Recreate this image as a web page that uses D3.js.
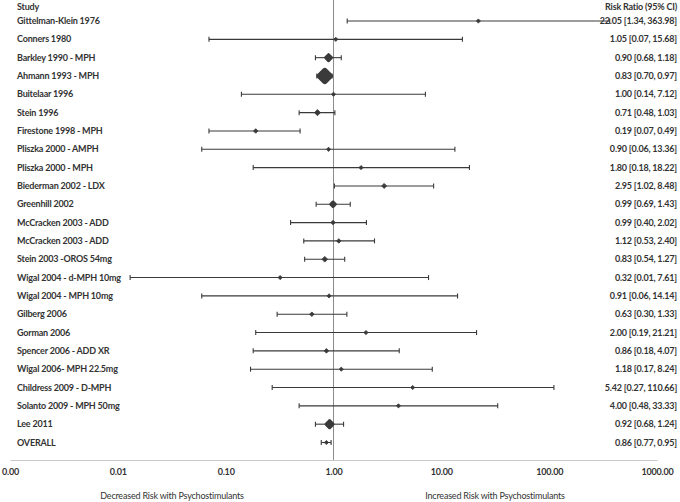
<!DOCTYPE html>
<html><head><meta charset="utf-8">
<script src="https://cdn.jsdelivr.net/npm/d3@7"></script>
<style>
body{margin:0;background:#fff;}
text{font-family:Lato,"Open Sans",sans-serif;letter-spacing:-0.2px;}
</style></head>
<body><svg id="c" width="680" height="502"></svg>
<script>
const studies = ["Gittelman-Klein 1976","Conners 1980","Barkley 1990 - MPH","Ahmann 1993 - MPH","Buitelaar 1996","Stein 1996","Firestone 1998 - MPH","Pliszka 2000 - AMPH","Pliszka 2000 - MPH","Biederman 2002 - LDX","Greenhill 2002","McCracken 2003 - ADD","McCracken 2003 - ADD","Stein 2003 -OROS 54mg","Wigal 2004 - d-MPH 10mg","Wigal 2004 - MPH 10mg","Gilberg 2006","Gorman 2006","Spencer 2006 - ADD XR","Wigal 2006- MPH 22.5mg","Childress 2009 - D-MPH","Solanto 2009 - MPH 50mg","Lee 2011","OVERALL"];
const rr    = [22.05,1.05,0.90,0.83,1.00,0.71,0.19,0.90,1.80,2.95,0.99,0.99,1.12,0.83,0.32,0.91,0.63,2.00,0.86,1.18,5.42,4.00,0.92,0.86];
const lower = [1.34,0.07,0.68,0.70,0.14,0.48,0.07,0.06,0.18,1.02,0.69,0.40,0.53,0.54,0.013,0.06,0.30,0.19,0.18,0.17,0.27,0.48,0.68,0.77];
const upper = [363.98,15.68,1.18,0.97,7.12,1.03,0.49,13.36,18.22,8.48,1.43,2.02,2.40,1.27,7.61,14.14,1.33,21.21,4.07,8.24,110.66,33.33,1.24,0.95];
const lowerLabel = [1.34,0.07,0.68,0.70,0.14,0.48,0.07,0.06,0.18,1.02,0.69,0.40,0.53,0.54,0.01,0.06,0.30,0.19,0.18,0.17,0.27,0.48,0.68,0.77];
const weights = [1,1,6,25,1,3,1.3,1,1,1.8,4,1.3,1.3,2.5,1,1,1.3,1,1.3,1,1,1,8,1];
const tickValues = [0.001,0.01,0.1,1,10,100,1000];
const tickLabels = ["0.00","0.01","0.10","1.00","10.00","100.00","1000.00"];

const svg = d3.select("#c");
const x = d3.scaleLog().domain([0.001,1000]).range([10,657]);
const y = d3.scaleLinear().domain([0,studies.length-1]).range([21,442.5]);
const size = d3.scaleSqrt().domain([1,25]).range([4.2,14.5]);
const dark = "#3a3a3a";
const fs = 9;

// reference line at 1
svg.append("line").attr("x1",x(1)).attr("x2",x(1)).attr("y1",0).attr("y2",460)
  .attr("stroke","#8c8c8c").attr("stroke-width",1);

// x axis
const axis = d3.axisBottom(x).tickValues(tickValues).tickFormat((d,i)=>tickLabels[i]).tickSize(0).tickPadding(9);
const ag = svg.append("g").attr("transform","translate(0,460)").call(axis);
ag.select(".domain").attr("stroke","#c8c8c8").attr("stroke-width",1.2);
ag.selectAll("text").attr("font-family","Lato").attr("font-size",fs).attr("font-weight",700).attr("fill","#333");

// headers
svg.append("text").attr("x",17).attr("y",9.5).text("Study")
  .attr("font-size",fs).attr("font-weight",700).attr("fill","#333");
svg.append("text").attr("x",677).attr("y",9.5).attr("text-anchor","end").text("Risk Ratio (95% CI)")
  .attr("font-size",fs).attr("font-weight",700).attr("fill","#333");

const rows = svg.append("g").selectAll("g").data(studies).join("g")
  .attr("transform",(d,i)=>`translate(0,${y(i)})`);

rows.append("text").attr("x",17).attr("dy","0.35em").text(d=>d)
  .attr("font-size",fs).attr("font-weight",700).attr("fill","#333");

rows.append("text").attr("x",677).attr("dy","0.35em").attr("text-anchor","end")
  .text((d,i)=>`${rr[i].toFixed(2)} [${lowerLabel[i].toFixed(2)}, ${upper[i].toFixed(2)}]`)
  .attr("font-size",fs).attr("font-weight",700).attr("fill","#333");

rows.append("line").attr("x1",(d,i)=>x(lower[i])).attr("x2",(d,i)=>x(upper[i]))
  .attr("stroke",dark).attr("stroke-width",1.1);
rows.append("line").attr("x1",(d,i)=>x(lower[i])).attr("x2",(d,i)=>x(lower[i]))
  .attr("y1",-2.5).attr("y2",2.5).attr("stroke",dark).attr("stroke-width",1.1);
rows.append("line").attr("x1",(d,i)=>x(upper[i])).attr("x2",(d,i)=>x(upper[i]))
  .attr("y1",-2.5).attr("y2",2.5).attr("stroke",dark).attr("stroke-width",1.1);

rows.append("path")
  .attr("d",(d,i)=>{const S=size(weights[i])/2;const big=weights[i]>3;const s=big?S*0.72:S;return `M${-s},0L0,${-s}L${s},0L0,${s}Z`;})
  .attr("transform",(d,i)=>`translate(${x(rr[i])},0)`)
  .attr("fill",dark).attr("stroke",dark)
  .attr("stroke-width",(d,i)=>weights[i]>3?size(weights[i])*0.4:0.8).attr("stroke-linejoin","round");

// bottom labels
svg.append("text").attr("x",172).attr("y",499).attr("text-anchor","middle")
  .text("Decreased Risk with Psychostimulants").attr("font-size",fs).attr("fill","#333");
svg.append("text").attr("x",495).attr("y",499).attr("text-anchor","middle")
  .text("Increased Risk with Psychostimulants").attr("font-size",fs).attr("fill","#333");
</script></body></html>
